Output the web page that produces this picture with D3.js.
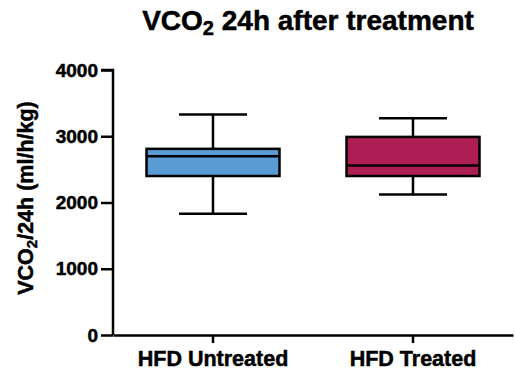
<!DOCTYPE html>
<html>
<head>
<meta charset="utf-8">
<script src="https://cdn.jsdelivr.net/npm/d3@7"></script>
<style>
  body { margin: 0; background: #fff; }
  text { font-family: "Liberation Sans", Arial, sans-serif; font-weight: bold; fill: #000; stroke: #000; stroke-width: 0.5px; }
</style>
</head>
<body>
<div id="chart"></div>
<script>
var w = 515
var h = 370

// data
var groups = ["HFD Untreated", "HFD Treated"]
var mins    = [1830, 2120]
var q1s     = [2400, 2400]
var medians = [2700, 2560]
var q3s     = [2810, 2990]
var maxs    = [3330, 3270]
var yTicks  = [0, 1000, 2000, 3000, 4000]
var colors  = ["#5b9bd5", "#ad1e55"]

var margin = {left: 113, right: 2, top: 70, bottom: 35}

var svg = d3.select("#chart").append("svg").attr("width", w).attr("height", h)

var x = d3.scaleBand().domain(groups).range([margin.left, w - margin.right])
var y = d3.scaleLinear().domain([0, 4000]).range([h - margin.bottom, margin.top])

var boxW = 133
var capW = 68

// y axis
var yAxis = svg.append("g")
    .attr("transform", "translate(" + margin.left + ",0)")
    .call(d3.axisLeft(y).tickValues(yTicks).tickFormat(d3.format("d")).tickSize(12).tickPadding(3))
yAxis.selectAll("path,line").attr("stroke", "#000").attr("stroke-width", 2.5)
yAxis.select(".domain").attr("d", "M0," + y(0) + "V" + y(4000) + "H-12")
yAxis.selectAll("text").attr("font-size", "19px").attr("font-family", "Liberation Sans, Arial, sans-serif").attr("font-weight", "bold").attr("fill", "#000")

// x axis
var xAxis = svg.append("g")
    .attr("transform", "translate(0," + y(0) + ")")
    .call(d3.axisBottom(x).tickSize(8).tickPadding(8).tickSizeOuter(0))
xAxis.selectAll("path,line").attr("stroke", "#000").attr("stroke-width", 2.5)
xAxis.selectAll("text").attr("font-size", "21.5px").attr("font-family", "Liberation Sans, Arial, sans-serif").attr("font-weight", "bold").attr("fill", "#000")

// boxes
var boxes = svg.selectAll("g.box")
    .data(groups)
    .enter()
    .append("g")
    .attr("class", "box")
    .attr("transform", function(d) { return "translate(" + (x(d) + x.bandwidth() / 2) + ",0)" })

boxes.append("line")
    .attr("x1", 0).attr("x2", 0)
    .attr("y1", function(d, i) { return y(maxs[i]) })
    .attr("y2", function(d, i) { return y(q3s[i]) })
    .attr("stroke", "#000").attr("stroke-width", 2.5)
boxes.append("line")
    .attr("x1", 0).attr("x2", 0)
    .attr("y1", function(d, i) { return y(q1s[i]) })
    .attr("y2", function(d, i) { return y(mins[i]) })
    .attr("stroke", "#000").attr("stroke-width", 2.5)
boxes.append("line")
    .attr("x1", -capW / 2).attr("x2", capW / 2)
    .attr("y1", function(d, i) { return y(maxs[i]) })
    .attr("y2", function(d, i) { return y(maxs[i]) })
    .attr("stroke", "#000").attr("stroke-width", 2.5)
boxes.append("line")
    .attr("x1", -capW / 2).attr("x2", capW / 2)
    .attr("y1", function(d, i) { return y(mins[i]) })
    .attr("y2", function(d, i) { return y(mins[i]) })
    .attr("stroke", "#000").attr("stroke-width", 2.5)
boxes.append("rect")
    .attr("x", -boxW / 2)
    .attr("width", boxW)
    .attr("y", function(d, i) { return y(q3s[i]) })
    .attr("height", function(d, i) { return y(q1s[i]) - y(q3s[i]) })
    .attr("fill", function(d, i) { return colors[i] })
    .attr("stroke", "#000").attr("stroke-width", 2.5)
boxes.append("line")
    .attr("x1", -boxW / 2).attr("x2", boxW / 2)
    .attr("y1", function(d, i) { return y(medians[i]) })
    .attr("y2", function(d, i) { return y(medians[i]) })
    .attr("stroke", "#000").attr("stroke-width", 2.5)

// title
var title = svg.append("text")
    .attr("x", 308)
    .attr("y", 30)
    .attr("text-anchor", "middle")
    .attr("font-size", "28px")
title.append("tspan").text("VCO")
title.append("tspan").text("2").attr("font-size", "20px").attr("dy", 5)
title.append("tspan").text(" 24h after treatment").attr("dy", -5)

// y label
var ylab = svg.append("text")
    .attr("transform", "translate(33," + 198 + ") rotate(-90)")
    .attr("text-anchor", "middle")
    .attr("font-size", "21.5px")
ylab.append("tspan").text("VCO")
ylab.append("tspan").text("2").attr("font-size", "15px").attr("dy", 4)
ylab.append("tspan").text("/24h (ml/h/kg)").attr("dy", -4)
</script>
</body>
</html>
